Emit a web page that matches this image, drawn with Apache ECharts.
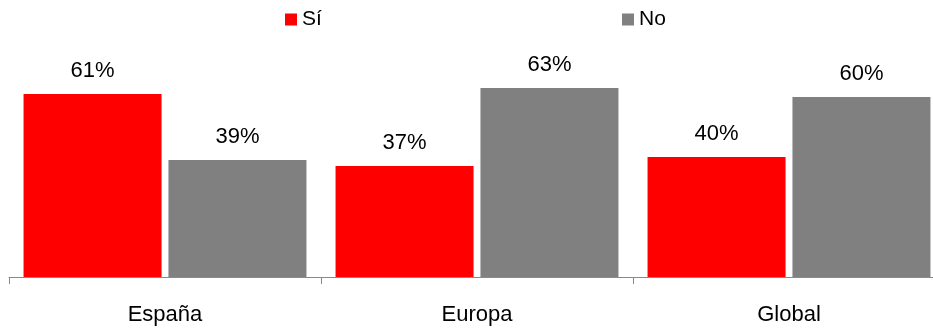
<!DOCTYPE html>
<html>
<head>
<meta charset="utf-8">
<style>
  html, body { margin: 0; padding: 0; background: #fff; }
  #chart { width: 933px; height: 331px; }
</style>
<script src="https://cdn.jsdelivr.net/npm/echarts@6/dist/echarts.min.js"></script>
</head>
<body>
<div id="chart"></div>
<script>
// Survey answers by region, in percent
const categories = ['España', 'Europa', 'Global'];
const siValues = [61, 37, 40];
const noValues = [39, 63, 60];

const FONT = '"Liberation Sans", Arial, sans-serif';

const chart = echarts.init(document.getElementById('chart'));

const labelStyle = {
  show: true,
  position: 'top',
  distance: 12,
  formatter: '{c}%',
  color: '#000',
  fontSize: 22,
  fontFamily: FONT
};

const legendText = { fontSize: 21, color: '#000', fontFamily: FONT };

chart.setOption({
  animation: false,
  textStyle: { fontFamily: FONT },
  legend: [
    {
      data: ['Sí'], left: 285, top: 9, padding: 0,
      icon: 'rect', itemWidth: 12, itemHeight: 12,
      textStyle: legendText
    },
    {
      data: ['No'], left: 622, top: 9, padding: 0,
      icon: 'rect', itemWidth: 12, itemHeight: 12,
      textStyle: legendText
    }
  ],
  // the plot runs a little past the right edge of the canvas
  grid: {
    left: 9, width: 936, top: 37, bottom: 54,
    containLabel: false,
    outerBoundsMode: 'none'
  },
  xAxis: {
    type: 'category',
    data: categories,
    axisLine: { lineStyle: { color: '#898989', width: 1 } },
    axisTick: { show: true, length: 7, lineStyle: { color: '#898989' } },
    axisLabel: { color: '#000', fontSize: 22, margin: 27, fontFamily: FONT }
  },
  yAxis: {
    type: 'value',
    min: 0,
    max: 80,
    show: false,
    splitLine: { show: false }
  },
  series: [
    {
      name: 'Sí',
      type: 'bar',
      data: siValues,
      barWidth: 138,
      barGap: '5%',
      itemStyle: { color: '#FF0000' },
      label: labelStyle
    },
    {
      name: 'No',
      type: 'bar',
      data: noValues,
      barWidth: 138,
      barGap: '5%',
      itemStyle: { color: '#808080' },
      label: labelStyle
    }
  ]
});
</script>
</body>
</html>
